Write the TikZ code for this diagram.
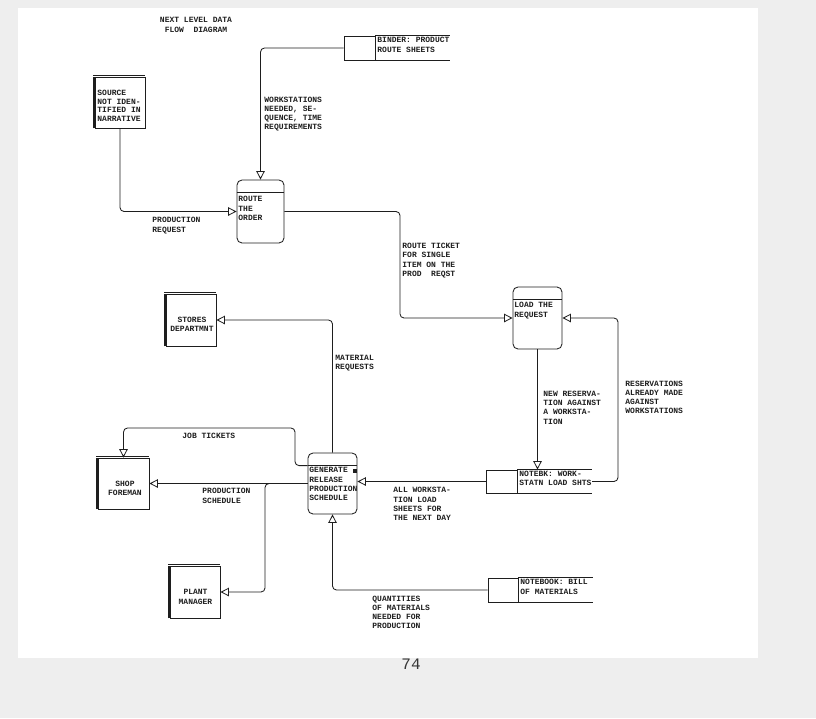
\documentclass[tikz,border=0pt]{standalone}
\usepackage{fontspec}
\newfontfamily\plt{Liberation Mono}
\usetikzlibrary{arrows.meta}
\definecolor{ink}{HTML}{1E1E1E}
\definecolor{paperbg}{HTML}{EEEEEE}
\begin{document}
\begin{tikzpicture}[x=1pt,y=-1pt,line width=0.85pt,draw=ink,
  lbl/.style={font=\plt\bfseries\fontsize{8}{9.3}\selectfont,text=ink,align=left,inner sep=0pt,anchor=north west},
  ctext/.style={font=\plt\bfseries\fontsize{8}{9.5}\selectfont,text=ink,align=center,inner sep=0pt},
  proc/.style={draw,rounded corners=5pt,inner sep=0pt},
  ent/.style={draw,inner sep=0pt},
  store/.style={draw,inner sep=0pt,minimum width=31pt},
  flow/.style={-{Triangle[open,length=8.5pt,width=8.5pt]},rounded corners=4pt}]
\fill[paperbg] (0,0) rectangle (816,718);
\fill[white] (18,8) rectangle (758,658);
\useasboundingbox (0,0) rectangle (816,718);

% title
\node[ctext,font=\plt\bfseries\fontsize{8}{10}\selectfont] (title) at (196,25) {NEXT LEVEL DATA\\FLOW\ \ DIAGRAM};

% external entities
\node[ent,minimum width=50pt,minimum height=51pt] (src) at (120,102.5) {};
\node[ent,minimum width=50pt,minimum height=52pt] (st) at (191,320) {};
\node[ent,minimum width=51pt,minimum height=51pt] (sf) at (123.5,483.5) {};
\node[ent,minimum width=50pt,minimum height=52pt] (pm) at (195,592) {};
\foreach \n in {src,st,sf,pm}{
  \draw[line width=1.8pt] ([xshift=-0.6pt]\n.south west) -- ([xshift=-0.6pt]\n.north west);
  \draw[line width=0.8pt] ([xshift=-1.5pt,yshift=1.2pt]\n.north west) -- ([yshift=1.2pt]\n.north east);
}
\node[lbl,font=\plt\bfseries\fontsize{8}{8.6}\selectfont] (srct) at (97,90) {SOURCE\\NOT IDEN-\\TIFIED IN\\NARRATIVE};
\node[ctext] (stt) at (192,324.5) {STORES\\DEPARTMNT};
\node[ctext] (sft) at (125,488.3) {SHOP\\FOREMAN};
\node[ctext] (pmt) at (195.5,596.7) {PLANT\\MANAGER};

% processes
\node[proc,minimum width=47pt,minimum height=63pt] (ro) at (260.5,211.5) {};
\node[proc,minimum width=49pt,minimum height=62pt] (ld) at (537.5,318) {};
\node[proc,minimum width=49pt,minimum height=61pt] (gen) at (332.5,483.5) {};
\foreach \n in {ro,ld,gen}{
  \draw ([yshift=-13pt]\n.north west) -- ([yshift=-13pt]\n.north east);
}
\node[lbl] (rot) at (238,196) {ROUTE\\THE\\ORDER};
\node[lbl] (ldt) at (514,302) {LOAD THE\\REQUEST};
\node[lbl] (gent) at (309,467) {GENERATE \rule{4.2pt}{4.2pt}\\RELEASE\\PRODUCTION\\SCHEDULE};

% data stores
\node[store,minimum height=24pt] (bnd) at (359.5,48) {};
\draw (bnd.north east) -- ++(75,0);
\draw (bnd.south east) -- ++(75,0);
\node[lbl] (bndt) at (377,37) {BINDER: PRODUCT\\ROUTE SHEETS};
\node[store,minimum height=23pt] (ws) at (501.5,481.5) {};
\draw (ws.north east) -- ++(75,0);
\draw (ws.south east) -- ++(75,0);
\node[lbl] (wst) at (519,470.5) {NOTEBK: WORK-\\STATN LOAD SHTS};
\node[store,minimum height=24pt,minimum width=30pt] (bom) at (503,590) {};
\draw (bom.north east) -- ++(75,0);
\draw (bom.south east) -- ++(75,0);
\node[lbl] (bomt) at (520,579) {NOTEBOOK: BILL\\OF MATERIALS};

% flows
\draw[flow] (bnd.west) -| (ro.north);
\draw[flow] (src.south) |- (ro.west);
\coordinate (c1) at (400,260);
\draw[flow] (ro.east) -| (c1) |- (ld.west);
\draw[flow] (ld.south) -- (ld.south |- ws.north);
\coordinate (wsR) at (592,481.5);
\coordinate (c2) at (618,400);
\draw[flow] (wsR) -| (c2) |- (ld.east);
\draw[flow] (ws.west) -- (ws.west -| gen.east);
\draw[flow] (gen.north) |- (st.east);
\coordinate (gd) at ([yshift=-13pt]gen.north west);
\coordinate (jt) at (295,428);
\draw[flow] (gd) -| (jt) -| (sf.north);
\draw[flow] (gen.west) -- (sf.east);
\coordinate (pb) at (273,483.5);
\coordinate (pc) at (265,540);
\draw[flow] (pb) -| (pc) |- (pm.east);
\draw[flow] (bom.west) -| (gen.south);

% flow labels
\node[lbl] (l1) at (264,96.3) {WORKSTATIONS\\NEEDED, SE-\\QUENCE, TIME\\REQUIREMENTS};
\node[lbl] (l2) at (152,217) {PRODUCTION\\REQUEST};
\node[lbl] (l3) at (402,242.7) {ROUTE TICKET\\FOR SINGLE\\ITEM ON THE\\PROD\ \ REQST};
\node[lbl] (l4) at (335,354.3) {MATERIAL\\REQUESTS};
\node[lbl] (l5) at (543,390.5) {NEW RESERVA-\\TION AGAINST\\A WORKSTA-\\TION};
\node[lbl] (l6) at (625,380.3) {RESERVATIONS\\ALREADY MADE\\AGAINST\\WORKSTATIONS};
\node[lbl] (l7) at (182,433) {JOB TICKETS};
\node[lbl] (l8) at (202,488) {PRODUCTION\\SCHEDULE};
\node[lbl] (l9) at (393,487) {ALL WORKSTA-\\TION LOAD\\SHEETS FOR\\THE NEXT DAY};
\node[lbl] (l10) at (372,595.3) {QUANTITIES\\OF MATERIALS\\NEEDED FOR\\PRODUCTION};

% page number
\node[font=\plt\fontsize{16}{16}\selectfont,text=ink!90,inner sep=0pt] (pg) at (411,664) {74};
\end{tikzpicture}
\end{document}
